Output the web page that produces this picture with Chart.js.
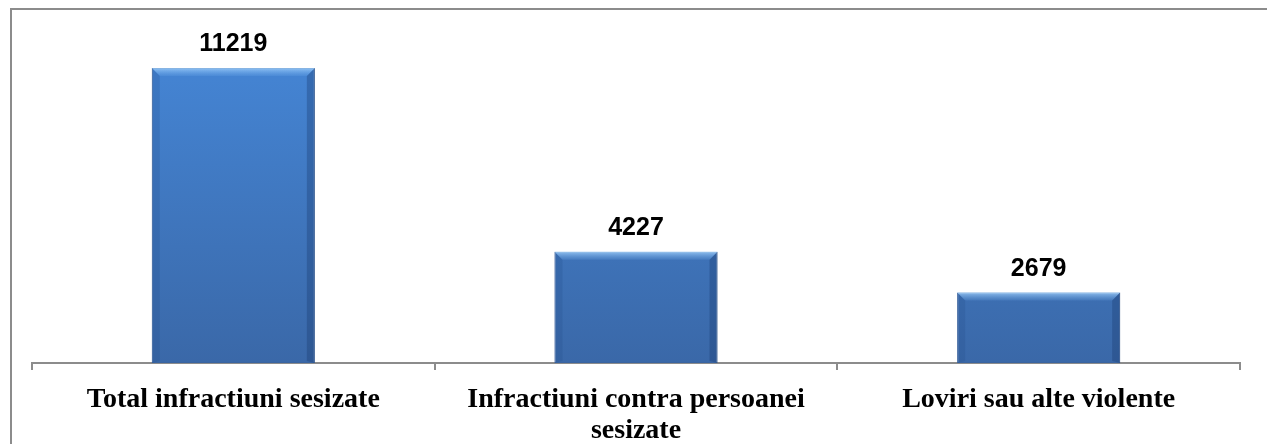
<!DOCTYPE html>
<html>
<head>
<meta charset="utf-8">
<script src="https://cdn.jsdelivr.net/npm/chart.js@4.4.0/dist/chart.umd.min.js"></script>
<style>
  html, body { margin: 0; padding: 0; background: #fff; overflow: hidden; }
  #wrap { position: relative; width: 1267px; height: 444px; }
  #frame { position: absolute; left: 10px; top: 8px; width: 1300px; height: 500px;
           border: 2px solid #8c8c8c; box-sizing: border-box; }
  #chart { position: absolute; left: 0; top: 0; }
</style>
</head>
<body>
<div id="wrap">
  <div id="frame"></div>
  <canvas id="chart" width="1267" height="444"></canvas>
</div>
<script>
const categories = [
  ['Total infractiuni sesizate'],
  ['Infractiuni contra persoanei', 'sesizate'],
  ['Loviri sau alte violente']
];
const values = [11219, 4227, 2679];
const yMax = 12000;

// value labels above bars + bevel shading
const barDecor = {
  id: 'barDecor',
  afterDatasetsDraw(chart) {
    const ctx = chart.ctx;
    const meta = chart.getDatasetMeta(0);
    meta.data.forEach((bar, i) => {
      const left = bar.x - bar.width / 2, right = bar.x + bar.width / 2;
      const top = bar.y, bottom = bar.base;
      const b = 8;
      ctx.save();
      // top bevel
      const tg = ctx.createLinearGradient(0, top, 0, top + b);
      tg.addColorStop(0, 'rgba(170,215,255,0.75)');
      tg.addColorStop(1, 'rgba(120,180,240,0.15)');
      ctx.fillStyle = tg;
      ctx.beginPath();
      ctx.moveTo(left, top); ctx.lineTo(right, top);
      ctx.lineTo(right - b, top + b); ctx.lineTo(left + b, top + b);
      ctx.closePath(); ctx.fill();
      // left bevel
      ctx.fillStyle = 'rgba(30,70,130,0.2)';
      ctx.beginPath();
      ctx.moveTo(left, top); ctx.lineTo(left + b, top + b);
      ctx.lineTo(left + b, bottom - 2); ctx.lineTo(left, bottom);
      ctx.closePath(); ctx.fill();
      // right bevel
      ctx.fillStyle = 'rgba(20,50,100,0.3)';
      ctx.beginPath();
      ctx.moveTo(right, top); ctx.lineTo(right - b, top + b);
      ctx.lineTo(right - b, bottom - 2); ctx.lineTo(right, bottom);
      ctx.closePath(); ctx.fill();
      // label
      ctx.fillStyle = '#000';
      ctx.font = 'bold 25px "Liberation Sans", Arial, sans-serif';
      ctx.textAlign = 'center';
      ctx.textBaseline = 'alphabetic';
      ctx.fillText(String(values[i]), bar.x, top - 17);
      ctx.restore();
    });
  }
};

const ctx = document.getElementById('chart');
new Chart(ctx, {
  type: 'bar',
  data: {
    labels: categories,
    datasets: [{
      data: values,
      backgroundColor: (c) => {
        const area = c.chart.chartArea;
        if (!area) return '#3f78c4';
        const g = c.chart.ctx.createLinearGradient(0, area.top, 0, area.bottom);
        g.addColorStop(0, '#4586d6');
        g.addColorStop(1, '#3a68a8');
        return g;
      },
      borderColor: '#3a64a0',
      borderWidth: 1,
      borderSkipped: false,
      categoryPercentage: 1,
      barPercentage: 0.405
    }]
  },
  options: {
    responsive: false,
    animation: false,
    layout: { padding: { left: 32, right: 27, top: 47.5, bottom: 0 } },
    plugins: { legend: { display: false }, tooltip: { enabled: false } },
    scales: {
      y: { display: false, min: 0, max: yMax },
      x: {
        afterFit: (s) => { s.height = 81; },
        border: { display: true, color: '#8c8c8c', width: 2 },
        grid: { display: true, drawOnChartArea: false, drawTicks: true, tickLength: 7, color: '#8c8c8c', lineWidth: 2, offset: true },
        ticks: {
          color: '#000',
          padding: 14,
          maxRotation: 0,
          font: { family: '"Liberation Serif", "Times New Roman", serif', size: 28, weight: 'bold', lineHeight: '31px' }
        }
      }
    }
  },
  plugins: [barDecor]
});
</script>
</body>
</html>
